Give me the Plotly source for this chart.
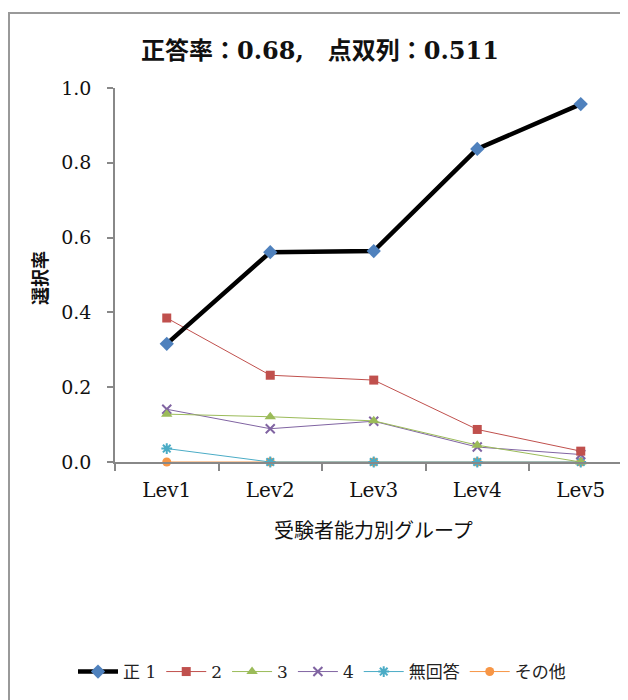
import plotly.graph_objects as go

categories = ["Lev1", "Lev2", "Lev3", "Lev4", "Lev5"]
series_names = ["正 1", "2", "3", "4", "無回答", "その他"]
v_correct = [0.316, 0.561, 0.564, 0.837, 0.957]
v_2 = [0.385, 0.232, 0.219, 0.087, 0.029]
v_3 = [0.128, 0.121, 0.110, 0.045, 0.0]
v_4 = [0.141, 0.089, 0.109, 0.040, 0.020]
v_none = [0.036, 0.0, 0.0, 0.0, 0.0]
v_other = [0.0, 0.0, 0.0, 0.0, 0.0]
title_text = "正答率：0.68,　点双列：0.511"
y_ticks = [0.0, 0.2, 0.4, 0.6, 0.8, 1.0]

SERIF = "'DejaVu Serif', 'Noto Sans CJK JP', serif"
CJK = "'Noto Sans CJK JP', sans-serif"

# page offset of the figure (browser default body margin)
OFF = 8
PL, PT, PW, PH = 115, 88, 521, 374   # plot area in page pixels


def px(X):
    return (X - PL) / PW


def py(Y):
    return (PT + PH - Y) / PH


styles = [
    dict(line=dict(color="black", width=4.5), marker=dict(symbol="diamond", size=11, color="#4F81BD")),
    dict(line=dict(color="#C0504D", width=1), marker=dict(symbol="square", size=9, color="#C0504D")),
    dict(line=dict(color="#9BBB59", width=1), marker=dict(symbol="triangle-up", size=10, color="#9BBB59")),
    dict(line=dict(color="#8064A2", width=1), marker=dict(symbol="x-thin", size=9, line=dict(color="#8064A2", width=2))),
    dict(line=dict(color="#4BACC6", width=1), marker=dict(symbol="asterisk", size=9, line=dict(color="#4BACC6", width=2))),
    dict(line=dict(color="#F79646", width=1), marker=dict(symbol="circle", size=9, color="#F79646")),
]
data = [v_correct, v_2, v_3, v_4, v_none, v_other]

fig = go.Figure()
order = [5, 4, 3, 2, 1, 0]
for i in order:
    fig.add_trace(go.Scatter(
        x=categories, y=data[i], name=series_names[i], mode="lines+markers",
        cliponaxis=False, legendrank=i + 1, **styles[i]))

fig.update_layout(
    width=628, height=700,
    margin=dict(l=PL - OFF, r=628 - (PL - OFF) - PW, t=PT - OFF, b=700 - (PT - OFF) - PH, autoexpand=False),
    paper_bgcolor="white", plot_bgcolor="white",
    showlegend=True,
    legend=dict(orientation="h", x=px(322), xanchor="center", y=py(672), yanchor="middle",
                font=dict(family=SERIF, size=17, color="#222"), traceorder="normal",
                itemwidth=40, tracegroupgap=0),
    xaxis=dict(type="category", range=[-0.5, -0.5 + PW / 103.5], showgrid=False, showline=True,
               linecolor="#888", linewidth=1.5, ticks="outside", tickson="boundaries",
               ticklen=7, tickcolor="#888", tickwidth=1.5, ticklabelstandoff=9,
               tickfont=dict(family=SERIF, size=20, color="#111")),
    yaxis=dict(range=[0, 1], tickvals=y_ticks, ticktext=[f"{v:.1f}" for v in y_ticks],
               showgrid=False, showline=True, linecolor="#888", linewidth=1.5,
               ticks="outside", ticklen=6, tickcolor="#888", tickwidth=1.5, ticklabelstandoff=12,
               tickfont=dict(family=SERIF, size=19, color="#111"), zeroline=False),
    annotations=[
        dict(text="<b>" + title_text + "</b>", x=px(320), y=py(50),
             xref="paper", yref="paper", xanchor="center", yanchor="middle",
             showarrow=False, font=dict(family=SERIF, size=24, color="#111")),
        dict(text="<b>選択率</b>", textangle=-90, x=px(39), y=py(278),
             xref="paper", yref="paper",
             showarrow=False, font=dict(family=CJK, size=18, color="#111"),
             xanchor="center", yanchor="middle"),
        dict(text="受験者能力別グループ", x=px(373), y=py(529), xref="paper", yref="paper",
             showarrow=False, font=dict(family=CJK, size=20, color="#111"),
             xanchor="center", yanchor="middle"),
    ],
    shapes=[dict(type="rect", xref="paper", yref="paper",
                 x0=px(OFF + 1), x1=px(660), y0=py(740), y1=py(13),
                 line=dict(color="#999", width=2), layer="below")],
)

fig.write_html("out.html")
